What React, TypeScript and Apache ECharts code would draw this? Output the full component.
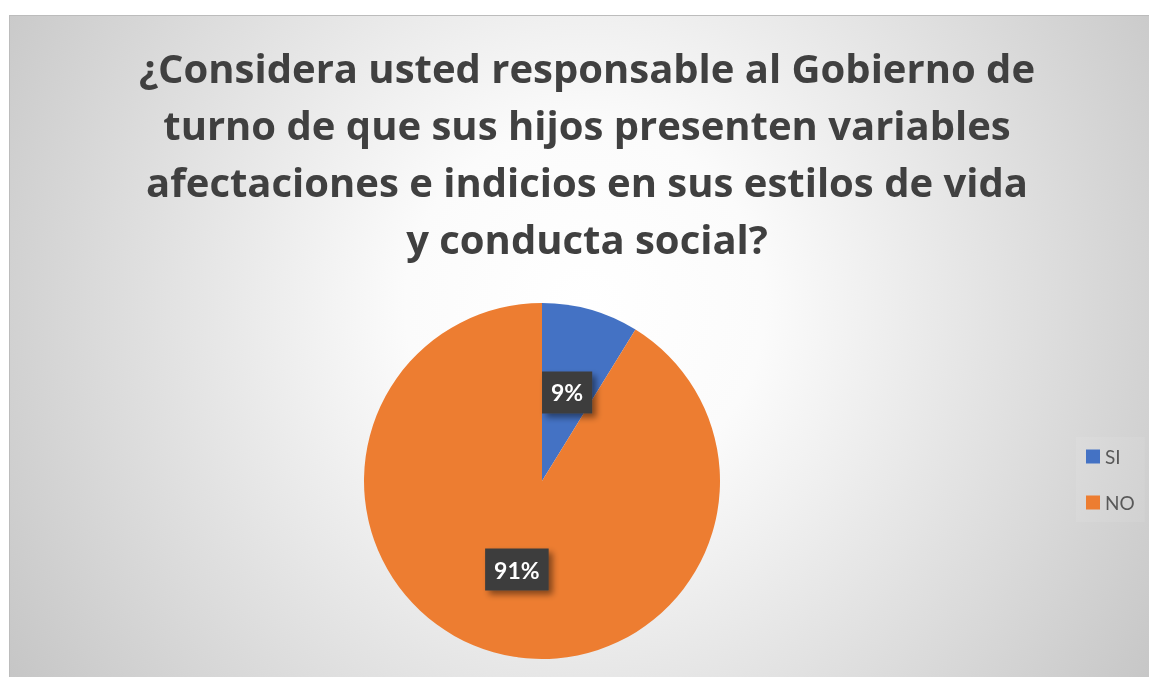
import React, { useEffect, useRef } from "react";
import * as echarts from "echarts";

const titleLines = [
  "¿Considera usted responsable al Gobierno de",
  "turno de que sus hijos presenten variables",
  "afectaciones e indicios en sus estilos de vida",
  "y conducta social?",
];
const categories = ["SI", "NO"];
const values = [8.8, 91.2];
const colors = ["#4472C4", "#ED7D31"];

export default function App() {
  const ref = useRef<HTMLDivElement>(null);
  useEffect(() => {
    document.body.style.overflow = "hidden";
    const chart = echarts.init(ref.current!, null, { renderer: "svg" });
    chart.setOption({
      animation: false,
      backgroundColor: new echarts.graphic.RadialGradient(575, 290, 720, [
        { offset: 0, color: "#ffffff" },
        { offset: 0.25, color: "#fbfbfb" },
        { offset: 1, color: "#c2c2c2" },
      ], true),
      graphic: [
        {
          type: "text",
          x: 577,
          y: 23,
          style: {
            text: titleLines.join("\n"),
            textAlign: "center",
            textVerticalAlign: "top",
            fontFamily: "Open Sans",
            fontWeight: "bold",
            fontSize: 40,
            lineHeight: 57,
            fill: "#404040",
          },
        },
      ],
      legend: {
        orient: "vertical",
        left: 1066,
        top: 421,
        itemWidth: 14,
        itemHeight: 14,
        itemGap: 27,
        padding: [10, 10, 10, 10],
        backgroundColor: "rgba(255,255,255,0.08)",
        icon: "rect",
        data: categories,
        textStyle: { fontFamily: "Lato", fontSize: 19, color: "#595959" },
      },
      series: [
        {
          type: "pie",
          center: [532, 465],
          radius: [0, 178],
          startAngle: 90,
          clockwise: true,
          percentPrecision: 0,
          itemStyle: { borderWidth: 0 },
          emphasis: { disabled: true },
          label: {
            show: true,
            position: "inside",
            formatter: "{d}%",
            fontFamily: "Lato",
            fontWeight: "bold",
            fontSize: 23,
            lineHeight: 24,
            color: "#ffffff",
            backgroundColor: "#3d3d3d",
            padding: [9, 9, 9, 9],
            shadowColor: "rgba(0,0,0,0.45)",
            shadowBlur: 6,
            shadowOffsetX: 4,
            shadowOffsetY: 4,
          },
          labelLine: { show: false },
          data: categories.map((c, i) => ({
            name: c,
            value: values[i],
            itemStyle: { color: colors[i] },
          })),
        },
      ],
    });
    return () => chart.dispose();
  }, []);
  return (
    <div
      style={{
        position: "fixed",
        left: 9,
        top: 15,
        borderLeft: "1px solid #bcbcbc",
        borderTop: "1px solid #bcbcbc",
      }}
    >
      <div ref={ref} style={{ width: 1140, height: 662 }} />
    </div>
  );
}
